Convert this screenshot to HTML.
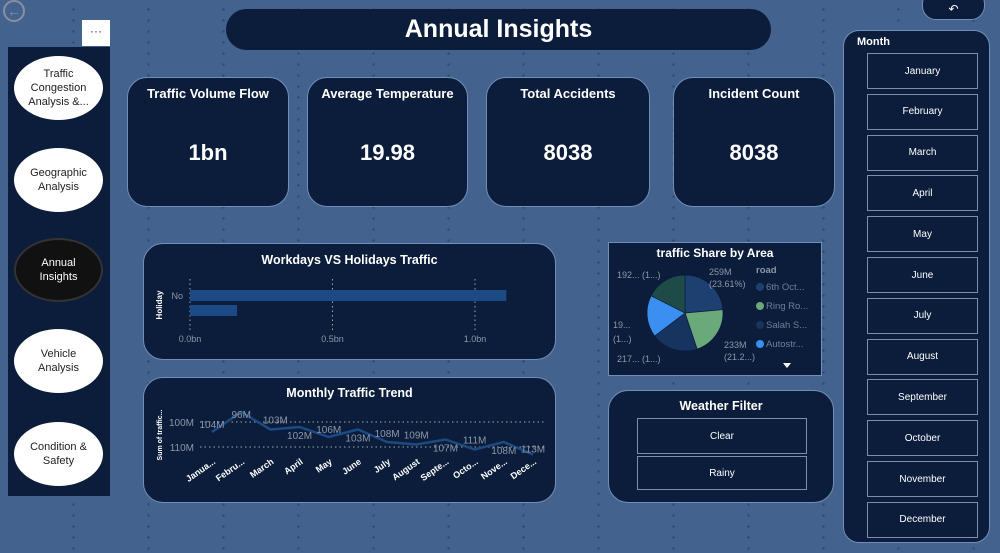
<!DOCTYPE html>
<html><head><meta charset="utf-8">
<style>
*{box-sizing:border-box;margin:0;padding:0}
body{width:1000px;height:553px;overflow:hidden;background:#43638e;font-family:"Liberation Sans",sans-serif;position:relative;color:#fff}
.dots{position:absolute;left:0;top:0;width:1000px;height:553px;background-image:radial-gradient(circle,#2b4366 1px,transparent 1.4px);background-size:75px 11px;background-position:36px 4px;opacity:.8}
.abs{position:absolute}
.card{position:absolute;background:#0b1d3a;border-radius:20px;border:1px solid #6f8fb8}
.kpi .t{position:absolute;top:8px;left:0;right:0;text-align:center;font-weight:bold;font-size:13px}
.kpi .v{position:absolute;top:62px;left:0;right:0;text-align:center;font-weight:bold;font-size:22px}
.oval{position:absolute;left:14px;width:89px;height:64px;border-radius:50%;background:#fff;color:#222;font-size:11px;display:flex;align-items:center;justify-content:center;text-align:center;line-height:14px}
.mbtn{position:absolute;left:867px;width:111px;height:36px;border:1.5px solid #7d8fa8;color:#fff;font-size:10px;display:flex;align-items:center;justify-content:center;background:#0b1d3a}
.ctitle{position:absolute;left:0;right:0;text-align:center;font-weight:bold;font-size:12.5px}
</style></head><body>
<div class="dots"></div>
<div class="abs" style="left:3px;top:0;width:22px;height:22px;border:2px solid #8a8fa0;border-radius:50%;color:#8a8fa0;font-size:14px;text-align:center;line-height:18px">←</div>
<div class="abs" style="left:82px;top:20px;width:28px;height:26px;background:#fff;color:#333;text-align:center;font-size:12px;line-height:22px">···</div>
<div class="abs" style="left:8px;top:47px;width:102px;height:449px;background:#0b1d3a"></div>
<div class="oval" style="top:56px">Traffic<br>Congestion<br>Analysis &amp;...</div>
<div class="oval" style="top:148px">Geographic<br>Analysis</div>
<div class="oval" style="top:238px;background:#111;color:#fff;border:2px solid #333">Annual<br>Insights</div>
<div class="oval" style="top:329px">Vehicle<br>Analysis</div>
<div class="oval" style="top:422px">Condition &amp;<br>Safety</div>

<div class="abs" style="left:226px;top:9px;width:545px;height:41px;background:#0b1d3a;border-radius:21px;text-align:center;font-weight:bold;font-size:25px;line-height:41px">Annual Insights</div>
<div class="abs" style="left:922px;top:-10px;width:63px;height:30px;background:#0b1d3a;border-radius:14px;border:1px solid #6f8fb8;text-align:center;font-size:12px;padding-top:11px">↶</div>

<div class="card kpi" style="left:127px;top:77px;width:162px;height:130px"><div class="t">Traffic Volume Flow</div><div class="v">1bn</div></div>
<div class="card kpi" style="left:307px;top:77px;width:161px;height:130px"><div class="t">Average Temperature</div><div class="v">19.98</div></div>
<div class="card kpi" style="left:486px;top:77px;width:164px;height:130px"><div class="t">Total Accidents</div><div class="v">8038</div></div>
<div class="card kpi" style="left:673px;top:77px;width:162px;height:130px"><div class="t">Incident Count</div><div class="v">8038</div></div>

<div class="abs" style="left:843px;top:30px;width:147px;height:513px;background:#0b1d3a;border-radius:16px;border:1px solid #6f8fb8"></div>
<div class="abs" style="left:857px;top:36px;font-size:11px;font-weight:bold">Month</div>
<div id="months"></div>

<div class="card" style="left:143px;top:243px;width:413px;height:117px"><div class="ctitle" style="top:9px">Workdays VS Holidays Traffic</div></div>
<svg class="abs" id="barsvg" style="left:0;top:0" width="1000" height="553"></svg>

<div class="card" style="left:143px;top:377px;width:413px;height:126px"><div class="ctitle" style="top:8px">Monthly Traffic Trend</div></div>
<svg class="abs" id="linesvg" style="left:0;top:0" width="1000" height="553"></svg>

<div class="abs" style="left:608px;top:242px;width:214px;height:134px;background:#0b1d3a;border:1px solid #6f8fb8"><div class="ctitle" style="top:3px;font-size:12px">traffic Share by Area</div></div>
<svg class="abs" id="piesvg" style="left:0;top:0" width="1000" height="553"></svg>

<div class="card" style="left:608px;top:390px;width:226px;height:113px"><div class="ctitle" style="top:8px">Weather Filter</div></div>
<div class="mbtn" style="left:637px;top:418px;width:170px;height:36px">Clear</div>
<div class="mbtn" style="left:637px;top:456px;width:170px;height:34px">Rainy</div>

<script>
const NS="http://www.w3.org/2000/svg";
function mk(svg,tag,attrs,text){const e=document.createElementNS(NS,tag);for(const k in attrs)e.setAttribute(k,attrs[k]);if(text!==undefined)e.textContent=text;svg.appendChild(e);return e;}

// Months slicer
const monthNames=["January","February","March","April","May","June","July","August","September","October","November","December"];
const mc=document.getElementById('months');
monthNames.forEach((m,i)=>{const d=document.createElement('div');d.className='mbtn';d.style.top=(53+i*40.8)+'px';d.textContent=m;


mc.appendChild(d);});

// Bar chart
const barCats=["No",""];
const barVals=[1.11,0.165];
const barTicks=[0,0.5,1.0];
const barTickLabels=["0.0bn","0.5bn","1.0bn"];
(function(){const s=document.getElementById('barsvg');
const x=v=>190+v*285;
barTicks.forEach((t,i)=>{const l=mk(s,'line',{x1:x(t),x2:x(t),y1:279,y2:330,stroke:'#9aa',"stroke-dasharray":'1.5,3'});

const tx=mk(s,'text',{x:x(t),y:342,fill:'#8d97a8','font-size':9,'text-anchor':'middle'},barTickLabels[i]);
});
barVals.forEach((v,i)=>{const r=mk(s,'rect',{x:x(0),y:290+i*15,width:x(v)-x(0),height:11,fill:'#1c4a84'});

if(barCats[i]){const t=mk(s,'text',{x:183,y:299+i*15,fill:'#8d97a8','font-size':9,'text-anchor':'end'},barCats[i]);}});
const yt=mk(s,'text',{x:0,y:0,fill:'#fff','font-size':8,'font-weight':'bold','text-anchor':'middle',transform:'translate(162,305) rotate(-90)'},'Holiday');

})();

// Line chart
const lineCats=["Janua...","Febru...","March","April","May","June","July","August","Septe...","Octo...","Nove...","Dece..."];
const lineVals=[104,96,103,102,106,103,108,109,107,111,108,113];
const lineLabels=["104M","96M","103M","102M","106M","103M","108M","109M","107M","111M","108M","113M"];
const lineTicks=[100,110];
(function(){const s=document.getElementById('linesvg');
const x=i=>212+i*(533-212)/11;
const y=v=>422+(v-100)*2.5;
lineTicks.forEach(t=>{const l=mk(s,'line',{x1:200,x2:545,y1:y(t),y2:y(t),stroke:'#9aa',"stroke-dasharray":'1.5,3'});
const tx=mk(s,'text',{x:194,y:y(t)+4,fill:'#8d97a8','font-size':10,'text-anchor':'end'},t+'M');});
const p=mk(s,'polyline',{points:lineVals.map((v,i)=>x(i)+','+y(v)).join(' '),fill:'none',stroke:'#1c4a84','stroke-width':2.5});

lineVals.forEach((v,i)=>{const above=(i%2===0)||i===1;const off=[ -4,6,-6,12,-4,12,-5,-6,12,-6,12,-2][i];
const t=mk(s,'text',{x:x(i)+[0,0,5,0,0,0,0,0,0,0,0,0][i],y:y(v)+off,fill:'#8d97a8','font-size':10,'text-anchor':'middle'},lineLabels[i]);

const c=mk(s,'text',{x:0,y:0,fill:'#fff','font-size':9,'font-weight':'bold','text-anchor':'end',transform:'translate('+(x(i)+4)+',463) rotate(-35)'},lineCats[i]);
});
const yt=mk(s,'text',{x:0,y:0,fill:'#fff','font-size':7,'font-weight':'bold','text-anchor':'middle',transform:'translate(162,435) rotate(-90)'},'Sum of traffic...');

})();

// Pie chart
const pieCats=["6th Oct...","Ring Ro...","Salah S...","Autostr...","Other"];
const pieVals=[259,233,217,196,192];
const pieColors=["#1d4070","#6aa97a","#17335f","#3a8ff0","#1e4a48"];
(function(){const s=document.getElementById('piesvg');
const cx=685,cy=313,r=38;const tot=pieVals.reduce((a,b)=>a+b,0);let a0=0;
pieVals.forEach((v,i)=>{const a1=a0+v/tot*2*Math.PI;
const p1=[cx+r*Math.sin(a0),cy-r*Math.cos(a0)],p2=[cx+r*Math.sin(a1),cy-r*Math.cos(a1)];
const path=mk(s,'path',{d:`M${cx},${cy}L${p1[0]},${p1[1]}A${r},${r} 0 ${a1-a0>Math.PI?1:0} 1 ${p2[0]},${p2[1]}Z`,fill:pieColors[i],stroke:'#0b1d3a','stroke-width':0.7});
a0=a1;});
const lbls=[["259M",709,275],["(23.61%)",709,287],["233M",724,348],["(21.2...)",724,360],["217... (1...)",617,362],["19...",613,328],["(1...)",613,342],["192... (1...)",617,278]];
lbls.forEach(l=>{const t=mk(s,'text',{x:l[1],y:l[2],fill:'#8d97a8','font-size':9},l[0]);});
const lt=mk(s,'text',{x:756,y:273,fill:'#8d97a8','font-size':9.5,'font-weight':'bold'},'road');
pieCats.slice(0,4).forEach((c,i)=>{const cc=mk(s,'circle',{cx:760,cy:287+i*19,r:4,fill:pieColors[i]});
const t=mk(s,'text',{x:766,y:290+i*19,fill:'#6f7f98','font-size':9.5},c);});
const ar=mk(s,'path',{d:'M783,363 L791,363 L787,368 Z',fill:'#fff'});
})();
</script>
</body></html>
